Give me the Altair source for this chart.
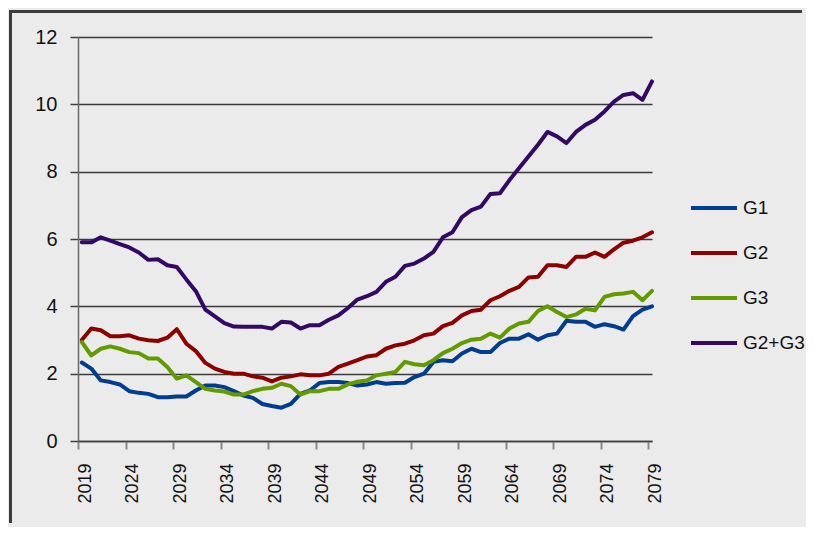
import altair as alt
import pandas as pd

years = list(range(2019, 2080))

g1 = [2.33, 2.15, 1.80, 1.75, 1.68, 1.48, 1.43, 1.40, 1.30, 1.30,
      1.32, 1.32, 1.50, 1.65, 1.65, 1.60, 1.48, 1.35, 1.28, 1.10,
      1.04, 0.99, 1.10, 1.40, 1.50, 1.72, 1.75, 1.75, 1.72, 1.65,
      1.68, 1.75, 1.70, 1.72, 1.73, 1.90, 2.00, 2.35, 2.40, 2.37,
      2.60, 2.74, 2.64, 2.64, 2.91, 3.04, 3.04, 3.17, 3.01, 3.14,
      3.19, 3.57, 3.54, 3.54, 3.39, 3.47, 3.41, 3.31, 3.71, 3.90,
      4.00]

g2 = [3.00, 3.34, 3.29, 3.11, 3.11, 3.14, 3.04, 2.99, 2.97, 3.07,
      3.32, 2.89, 2.67, 2.32, 2.15, 2.05, 2.00, 2.00, 1.92, 1.88,
      1.77, 1.88, 1.92, 1.98, 1.95, 1.95, 2.00, 2.20, 2.30, 2.40,
      2.51, 2.55, 2.74, 2.84, 2.89, 2.99, 3.14, 3.19, 3.41, 3.51,
      3.73, 3.86, 3.90, 4.18, 4.30, 4.46, 4.58, 4.86, 4.88, 5.22,
      5.22, 5.17, 5.47, 5.47, 5.60, 5.47, 5.69, 5.89, 5.95, 6.05,
      6.20]

g3 = [2.94, 2.54, 2.74, 2.81, 2.74, 2.64, 2.61, 2.45, 2.45, 2.20,
      1.85, 1.95, 1.75, 1.55, 1.50, 1.47, 1.38, 1.38, 1.48, 1.55,
      1.58, 1.70, 1.63, 1.38, 1.48, 1.48, 1.55, 1.55, 1.68, 1.76,
      1.80, 1.95, 2.00, 2.05, 2.35, 2.28, 2.25, 2.40, 2.61, 2.74,
      2.91, 3.01, 3.04, 3.19, 3.07, 3.34, 3.49, 3.54, 3.86, 4.00,
      3.83, 3.68, 3.76, 3.93, 3.88, 4.28, 4.36, 4.38, 4.43, 4.18,
      4.46]

g23 = [5.90, 5.90, 6.05, 5.95, 5.85, 5.75, 5.60, 5.38, 5.40, 5.22,
       5.17, 4.80, 4.45, 3.90, 3.70, 3.50, 3.40, 3.39, 3.39, 3.39,
       3.34, 3.54, 3.52, 3.34, 3.44, 3.44, 3.60, 3.73, 3.95, 4.20,
       4.30, 4.43, 4.73, 4.88, 5.20, 5.27, 5.42, 5.62, 6.05, 6.20,
       6.65, 6.86, 6.96, 7.34, 7.36, 7.75, 8.10, 8.45, 8.80, 9.18,
       9.05, 8.85, 9.18, 9.39, 9.54, 9.79, 10.08, 10.28, 10.33, 10.13,
       10.68]

series_names = ["G1", "G2", "G3", "G2+G3"]
series_colors = ["#003c8f", "#8c0000", "#629a00", "#320a66"]
tick_years = [2019, 2024, 2029, 2034, 2039, 2044, 2049, 2054, 2059, 2064, 2069, 2074, 2079]
y_ticks = [0, 2, 4, 6, 8, 10, 12]

rows = []
for name, vals in zip(series_names, [g1, g2, g3, g23]):
    for yr, v in zip(years, vals):
        rows.append({"year": yr, "series": name, "value": v})
df = pd.DataFrame(rows)

FONT = "Liberation Sans"
W, H = 574, 404
PAD_L, PAD_T, PAD_R, PAD_B = 70, 29, 154, 86

lines = alt.Chart(df).transform_calculate(
    xpos="datum.year + 0.4"
).mark_line(strokeWidth=4, strokeJoin="round", strokeCap="round").encode(
    x=alt.X("xpos:Q",
            scale=alt.Scale(domain=[2019, 2079.4], nice=False, zero=False),
            axis=alt.Axis(values=tick_years, title=None, labelAngle=270,
                          format="d", labelAlign="right", labelBaseline="middle",
                          labelFontSize=18, labelFont=FONT, labelColor="#111111",
                          labelPadding=14, labelOffset=7,
                          tickSize=8, tickColor="#8a8a8a", tickWidth=2,
                          domainColor="#404040", domainWidth=1.5,
                          grid=False, labelFlush=False, labelOverlap=False)),
    y=alt.Y("value:Q",
            scale=alt.Scale(domain=[0, 12], nice=False),
            axis=alt.Axis(values=y_ticks, title=None, format="d",
                          labelFontSize=20, labelFont=FONT, labelColor="#111111",
                          labelPadding=13, tickSize=8, tickColor="#404040",
                          tickWidth=1.5, domainColor="#6a6a6a", domainWidth=1.5,
                          grid=True, gridColor="#3a3a3a", gridWidth=1.5)),
    color=alt.Color("series:N",
                    scale=alt.Scale(domain=series_names, range=series_colors),
                    legend=alt.Legend(title=None, orient="none", legendX=611, legendY=146,
                                      symbolType="stroke", symbolSize=2116,
                                      symbolStrokeWidth=4, labelFontSize=19,
                                      labelFont=FONT, labelColor="#111111",
                                      labelOffset=4, rowPadding=10)),
    detail="series:N",
)

frame_df = pd.DataFrame({"f": [0]})
frame_left = alt.Chart(frame_df).mark_rect(color="#3c3c3c", strokeWidth=0).encode(
    x=alt.value(-PAD_L + 1), x2=alt.value(-PAD_L + 4),
    y=alt.value(-PAD_T + 2), y2=alt.value(H + PAD_B - 4),
)
frame_top = alt.Chart(frame_df).mark_rect(color="#3c3c3c", strokeWidth=0).encode(
    x=alt.value(-PAD_L + 1), x2=alt.value(W + PAD_R - 4),
    y=alt.value(-PAD_T + 2), y2=alt.value(-PAD_T + 5),
)

chart = alt.layer(lines, frame_left, frame_top).properties(
    width=W, height=H,
    autosize=alt.AutoSizeParams(type="none"),
    padding={"left": PAD_L, "top": PAD_T, "right": PAD_R, "bottom": PAD_B},
    background="#ebebeb",
).configure_view(stroke=None)

chart.save("out.html", embed_options={"renderer": "svg", "actions": False})
